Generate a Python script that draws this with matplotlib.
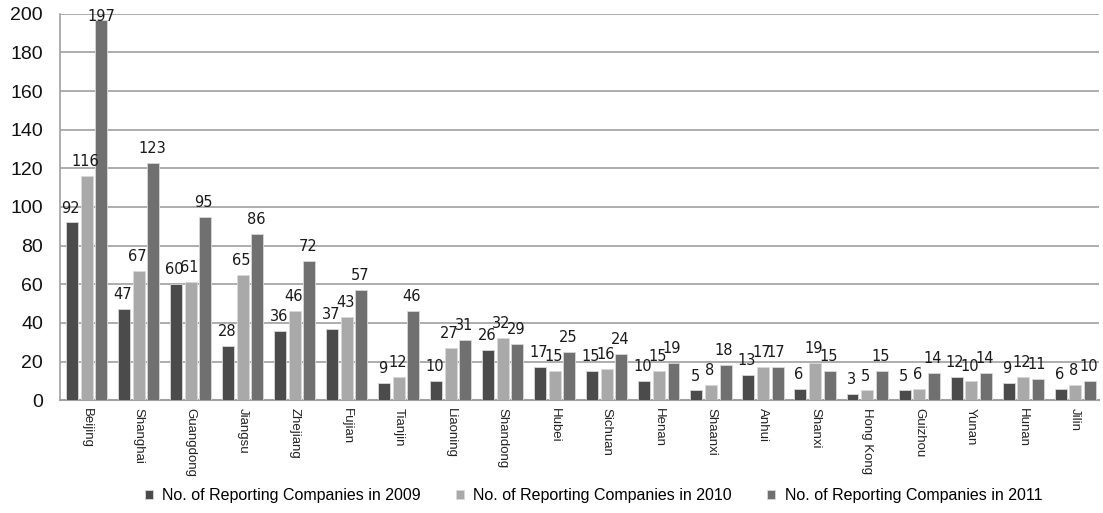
import matplotlib
matplotlib.use("Agg")
import matplotlib.pyplot as plt
import numpy as np

provinces = ["Beijing", "Shanghai", "Guangdong", "Jiangsu", "Zhejiang", "Fujian",
             "Tianjin", "Liaoning", "Shandong", "Hubei", "Sichuan", "Henan",
             "Shaanxi", "Anhui", "Shanxi", "Hong Kong", "Guizhou", "Yunan",
             "Hunan", "Jilin"]
y2009 = [92, 47, 60, 28, 36, 37, 9, 10, 26, 17, 15, 10, 5, 13, 6, 3, 5, 12, 9, 6]
y2010 = [116, 67, 61, 65, 46, 43, 12, 27, 32, 15, 16, 15, 8, 17, 19, 5, 6, 10, 12, 8]
y2011 = [197, 123, 95, 86, 72, 57, 46, 31, 29, 25, 24, 19, 18, 17, 15, 15, 14, 14, 11, 10]
series_names = ["No. of Reporting Companies in 2009",
                "No. of Reporting Companies in 2010",
                "No. of Reporting Companies in 2011"]
yticks = [0, 20, 40, 60, 80, 100, 120, 140, 160, 180, 200]

colors = ["#4b4b4b", "#a9a9a9", "#707070"]

plt.rcParams["font.family"] = ["Liberation Sans", "DejaVu Sans"]

fig = plt.figure(figsize=(11.03, 5.13), dpi=100)
ax = fig.add_axes([0.054, 0.22, 0.942, 0.753])

x = np.arange(len(provinces))
step = 0.28
width = 0.23
ymax = 200
for i, (vals, col, name) in enumerate(zip([y2009, y2010, y2011], colors, series_names)):
    pos = x + (i - 1) * step
    ax.bar(pos, vals, width, color=col, edgecolor="#d8d8d8", linewidth=0.6,
           label=name, zorder=3)
    for px, v in zip(pos, vals):
        # labels near the top of the scale sit on the bar end instead of above it
        if v > 0.95 * ymax:
            off, va = (0, 2), "center"
        else:
            off, va = (-1, 5), "bottom"
        ax.annotate(str(v), (px, v), xytext=off, textcoords="offset points",
                    ha="center", va=va, fontsize=10.5, color="#1a1a1a",
                    family=["DejaVu Sans"], zorder=4, annotation_clip=False)

ax.set_ylim(0, ymax)
ax.set_xlim(-0.52, 19.45)
ax.set_yticks(yticks)
ax.set_yticklabels([str(t) for t in yticks], fontsize=14, color="#111111")
ax.tick_params(axis="y", length=0, pad=12)
ax.set_xticks(x)
ax.set_xticklabels(provinces, rotation=-90, fontsize=9.5, color="#222222")
ax.tick_params(axis="x", length=0, pad=6)
ax.grid(axis="y", color="#a0a0a0", linewidth=1.2, zorder=0)
for s in ["top", "right"]:
    ax.spines[s].set_visible(False)
ax.spines["left"].set_color("#a0a0a0")
ax.spines["left"].set_linewidth(1.2)
ax.spines["bottom"].set_color("#a0a0a0")
ax.spines["bottom"].set_linewidth(1.5)

fig.legend(loc="lower center", bbox_to_anchor=(0.538, -0.008), ncol=3, frameon=False,
           fontsize=11.5, handlelength=0.5, handleheight=0.5, handletextpad=0.6,
           columnspacing=2.2)

fig.savefig("out.png", dpi=100)
